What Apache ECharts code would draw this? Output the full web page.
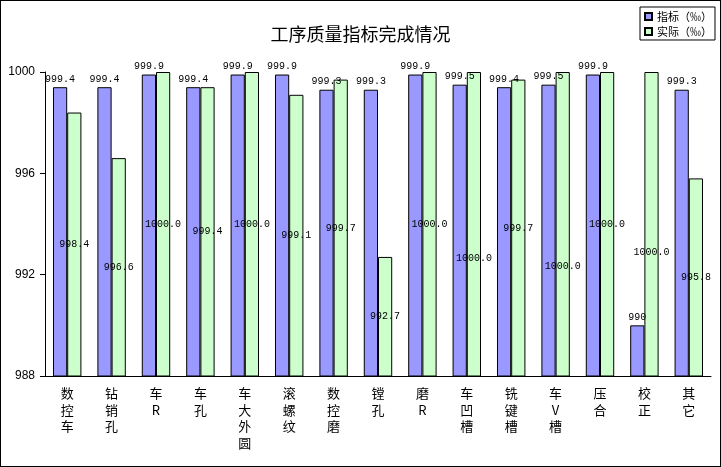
<!DOCTYPE html>
<html lang="zh">

<head>
    <meta charset="UTF-8">
    <title>工序质量指标完成情况</title>
    <style>
        html,
        body {
            margin: 0;
            padding: 0;
            background: #fff;
        }

        #main {
            width: 719px;
            height: 465px;
            border: 1px solid #000;
        }
    </style>
</head>

<body>
    <div id="main"></div>
    <script src="https://cdn.jsdelivr.net/npm/echarts@6/dist/echarts.min.js"></script>
    <script type="text/javascript">
        var processes = ['数控车', '钻销孔', '车R', '车孔', '车大外圆', '滚螺纹', '数控磨', '镗孔',
            '磨R', '车凹槽', '铣键槽', '车V槽', '压合', '校正', '其它'];
        var target = [999.4, 999.4, 999.9, 999.4, 999.9, 999.9, 999.3, 999.3,
            999.9, 999.5, 999.4, 999.5, 999.9, 990, 999.3];
        var actual = [998.4, 996.6, 1000.0, 999.4, 1000.0, 999.1, 999.7, 992.7,
            1000.0, 1000.0, 999.7, 1000.0, 1000.0, 1000.0, 995.8];
        var yTicks = [988, 992, 996, 1000];

        // a few of the green labels sit lower than the bar centre in the original
        var greenLabelShift = { 9: 34, 11: 42, 13: 28 };

        var myChart = echarts.init(document.getElementById('main'));
        var monoFont = '"Liberation Mono", "DejaVu Sans Mono", monospace';
        var cjkFont = '"Noto Sans CJK SC", sans-serif';

        var actualData = actual.map(function (v, i) {
            var item = { value: v };
            if (greenLabelShift[i]) {
                item.label = { offset: [0, greenLabelShift[i]] };
            }
            return item;
        });

        var option = {
            animation: false,
            backgroundColor: '#fff',
            title: {
                text: '工序质量指标完成情况',
                left: 'center',
                top: 19,
                textStyle: {
                    fontFamily: cjkFont,
                    fontSize: 18,
                    fontWeight: 'normal',
                    color: '#000'
                }
            },
            legend: {
                orient: 'vertical',
                left: 639,
                top: 6,
                padding: [4, 3, 3, 4],
                borderColor: '#000',
                borderWidth: 1,
                icon: 'rect',
                itemWidth: 7,
                itemHeight: 7,
                itemGap: 4,
                textStyle: {
                    fontFamily: cjkFont,
                    fontSize: 11,
                    color: '#000'
                },
                data: ['指标（‰）', '实际（‰）']
            },
            grid: {
                left: 44,
                right: 9,
                top: 71,
                bottom: 90
            },
            xAxis: {
                type: 'category',
                data: processes,
                axisLine: { lineStyle: { color: '#000', width: 1 } },
                axisTick: { inside: true, length: 3, lineStyle: { color: '#000' } },
                axisLabel: {
                    color: '#000',
                    fontFamily: cjkFont,
                    fontSize: 13,
                    lineHeight: 16.5,
                    margin: 9,
                    interval: 0,
                    formatter: function (s) {
                        return s.split('').join('\n');
                    }
                }
            },
            yAxis: {
                type: 'value',
                min: yTicks[0],
                max: yTicks[yTicks.length - 1],
                interval: 4,
                axisLine: { show: true, lineStyle: { color: '#000', width: 1 } },
                axisTick: { show: true, length: 5, lineStyle: { color: '#000' } },
                splitLine: { show: false },
                axisLabel: {
                    color: '#000',
                    fontFamily: '"Liberation Sans", Arial, sans-serif',
                    fontSize: 12,
                    margin: 10,
                    formatter: function (v) { return String(v); }
                }
            },
            series: [{
                name: '指标（‰）',
                type: 'bar',
                data: target,
                barWidth: '32%',
                barGap: '0%',
                itemStyle: { color: '#9999FF', borderColor: '#000', borderWidth: 1 },
                label: {
                    show: true,
                    position: 'top',
                    distance: 3,
                    color: '#000',
                    fontFamily: monoFont,
                    fontSize: 10,
                    formatter: function (p) { return String(p.value); }
                }
            }, {
                name: '实际（‰）',
                type: 'bar',
                data: actualData,
                barWidth: '32%',
                itemStyle: { color: '#CCFFCC', borderColor: '#000', borderWidth: 1 },
                label: {
                    show: true,
                    position: 'inside',
                    color: '#000',
                    fontFamily: monoFont,
                    fontSize: 10,
                    formatter: function (p) { return p.value.toFixed(1); }
                }
            }]
        };
        myChart.setOption(option);
        window.addEventListener("resize", function () {
            myChart.resize();
        });
    </script>
</body>

</html>
